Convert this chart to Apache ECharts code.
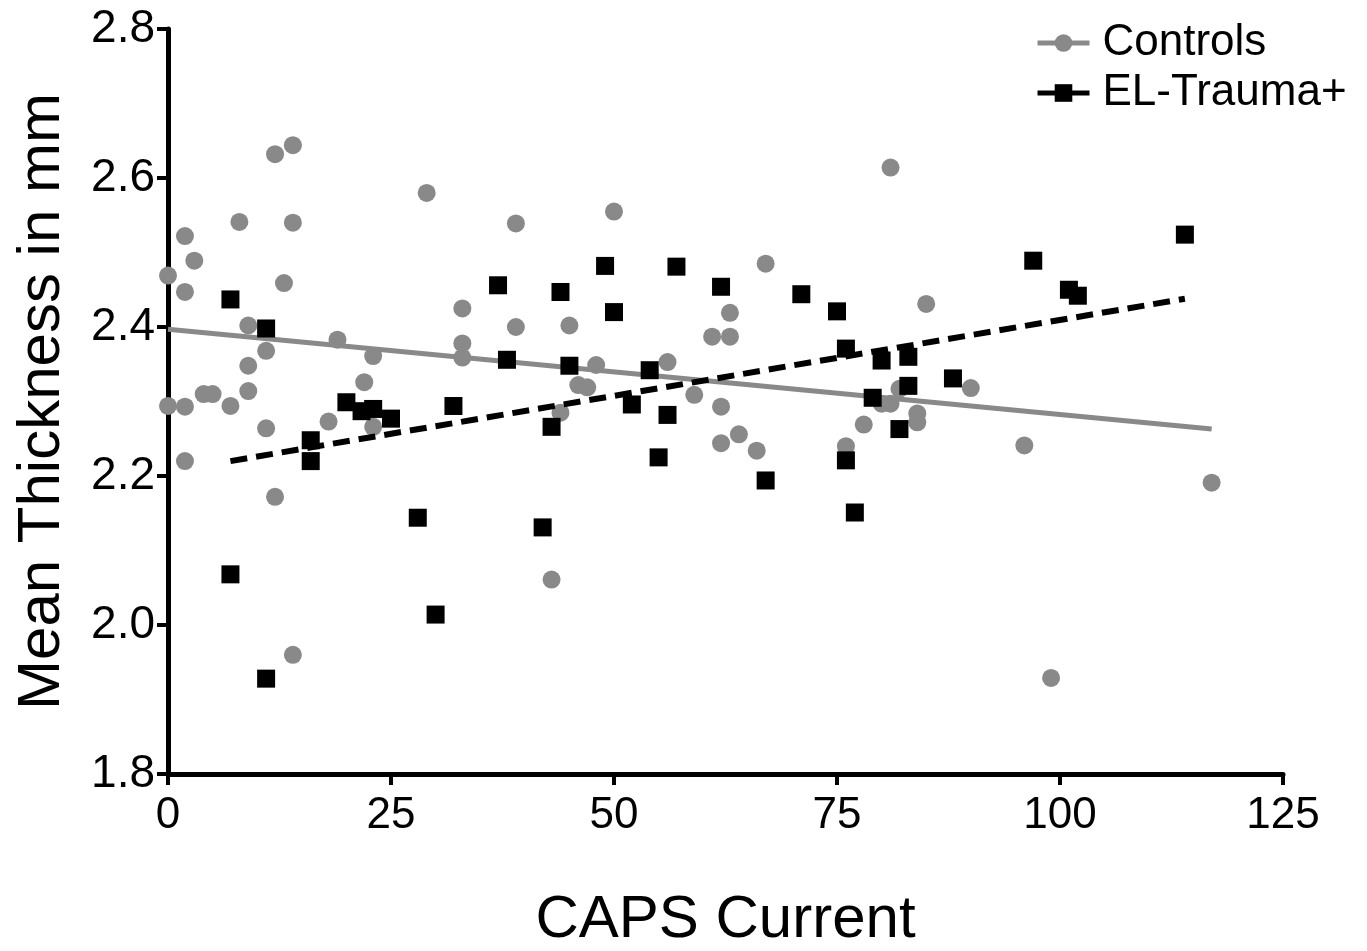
<!DOCTYPE html>
<html>
<head>
<meta charset="utf-8">
<script src="https://cdn.jsdelivr.net/npm/echarts@6/dist/echarts.min.js"></script>
<style>
html,body{margin:0;padding:0;background:#fff;}
#chart{width:1367px;height:951px;}
</style>
</head>
<body>
<div id="chart"></div>
<script>
// ---- data ----
const xAxisRange = { min: 0, max: 125, interval: 25 };
const yAxisRange = { min: 1.8, max: 2.8, interval: 0.2 };
const seriesNames = ['Controls', 'EL-Trauma+'];

// Controls: [CAPS Current, Mean Thickness]
const controlsPoints = [
  [0, 2.469], [0, 2.294], [1.9, 2.522], [1.9, 2.447], [1.9, 2.293], [1.9, 2.220],
  [2.95, 2.489], [4, 2.310], [5, 2.310], [7, 2.294], [8, 2.541], [9, 2.402],
  [9, 2.348], [9, 2.314], [11, 2.368], [11, 2.264], [12, 2.632], [12, 2.172],
  [13, 2.459], [14, 2.644], [14, 2.540], [14, 1.960], [18, 2.273], [19, 2.383],
  [22, 2.326], [23, 2.361], [23, 2.266], [29, 2.580], [33, 2.425], [33, 2.378],
  [33, 2.359], [39, 2.539], [39, 2.400], [43, 2.061], [44, 2.285], [45, 2.402],
  [46, 2.322], [47, 2.319], [48, 2.349], [50, 2.555], [56, 2.353], [59, 2.309],
  [61, 2.387], [62, 2.293], [62, 2.244], [63, 2.419], [63, 2.387], [64, 2.256],
  [66, 2.234], [67, 2.485], [76, 2.240], [78, 2.269], [80, 2.297], [81, 2.297],
  [81, 2.614], [82, 2.317], [84, 2.284], [84, 2.272], [85, 2.431], [90, 2.318],
  [96, 2.241], [99, 1.929], [117, 2.191]
];

// EL-Trauma+: [CAPS Current, Mean Thickness]
const traumaPoints = [
  [7, 2.437], [7, 2.068], [11, 2.398], [11, 1.928], [16, 2.248], [16, 2.220],
  [20, 2.299], [21.7, 2.287], [23, 2.290], [25, 2.277], [28, 2.144], [30, 2.014],
  [32, 2.294], [37, 2.456], [38, 2.356], [42, 2.131], [43, 2.266], [44, 2.447],
  [45, 2.348], [49, 2.482], [50, 2.420], [52, 2.296], [54, 2.342], [55, 2.225],
  [56, 2.282], [57, 2.481], [62, 2.454], [67, 2.194], [71, 2.444], [75, 2.421],
  [76, 2.371], [76, 2.221], [77, 2.151], [79, 2.305], [80, 2.355], [82, 2.263],
  [83, 2.360], [83, 2.321], [88, 2.331], [97, 2.489], [101, 2.450], [102, 2.442],
  [114, 2.524]
];

// fitted lines (end points)
const controlsFit = [[0, 2.397], [117, 2.263]];
const traumaFit = [[7, 2.220], [114, 2.438]];

const axisTitleX = 'CAPS Current';
const axisTitleY = 'Mean Thickness in mm';

// ---- chart ----
const FONT = "'Liberation Sans', Arial, Helvetica, sans-serif";
const GRAY = '#898989';
const chart = echarts.init(document.getElementById('chart'), null, { renderer: 'canvas' });

const axisCommon = {
  axisLine: { show: true, onZero: false, lineStyle: { color: '#000', width: 5 } },
  axisTick: { show: true, inside: false, length: 11, lineStyle: { color: '#000', width: 4 } },
  splitLine: { show: false },
  nameLocation: 'middle',
  nameTextStyle: { fontFamily: FONT, fontSize: 60, color: '#000' }
};

chart.setOption({
  animation: false,
  backgroundColor: '#fff',
  grid: { left: 168, right: 84, top: 29, bottom: 177, containLabel: false, outerBoundsMode: 'none' },
  legend: {
    data: seriesNames,
    orient: 'vertical',
    left: 1030,
    top: 13,
    itemWidth: 52,
    itemHeight: 22,
    itemGap: 0,
    lineStyle: { type: 'solid', width: 5 },
    textStyle: { fontFamily: FONT, fontSize: 44, color: '#000', lineHeight: 50, padding: [0, 0, 0, 8] }
  },
  xAxis: Object.assign({}, axisCommon, {
    type: 'value',
    min: xAxisRange.min, max: xAxisRange.max, interval: xAxisRange.interval,
    name: axisTitleX,
    nameGap: 116,
    axisLabel: { fontFamily: FONT, fontSize: 44, color: '#000', margin: 20 }
  }),
  yAxis: Object.assign({}, axisCommon, {
    type: 'value',
    min: yAxisRange.min, max: yAxisRange.max, interval: yAxisRange.interval,
    name: axisTitleY,
    nameGap: 96,
    axisLabel: { fontFamily: FONT, fontSize: 46, color: '#000', margin: 13,
      formatter: v => v.toFixed(1) }
  }),
  series: [
    {
      name: seriesNames[0], type: 'line', data: controlsFit,
      symbol: 'circle', showSymbol: false, z: 3,
      itemStyle: { color: GRAY },
      lineStyle: { color: GRAY, width: 5 }
    },
    {
      name: seriesNames[1], type: 'line', data: traumaFit,
      symbol: 'rect', showSymbol: false, z: 5,
      itemStyle: { color: '#000' },
      lineStyle: { color: '#000', width: 6, type: [17, 9] }
    },
    {
      name: seriesNames[0], type: 'scatter', data: controlsPoints,
      symbol: 'circle', symbolSize: 18, z: 2,
      itemStyle: { color: GRAY, opacity: 1 }
    },
    {
      name: seriesNames[1], type: 'scatter', data: traumaPoints,
      symbol: 'rect', symbolSize: 18, z: 4,
      itemStyle: { color: '#000', opacity: 1 }
    }
  ]
});
</script>
</body>
</html>
